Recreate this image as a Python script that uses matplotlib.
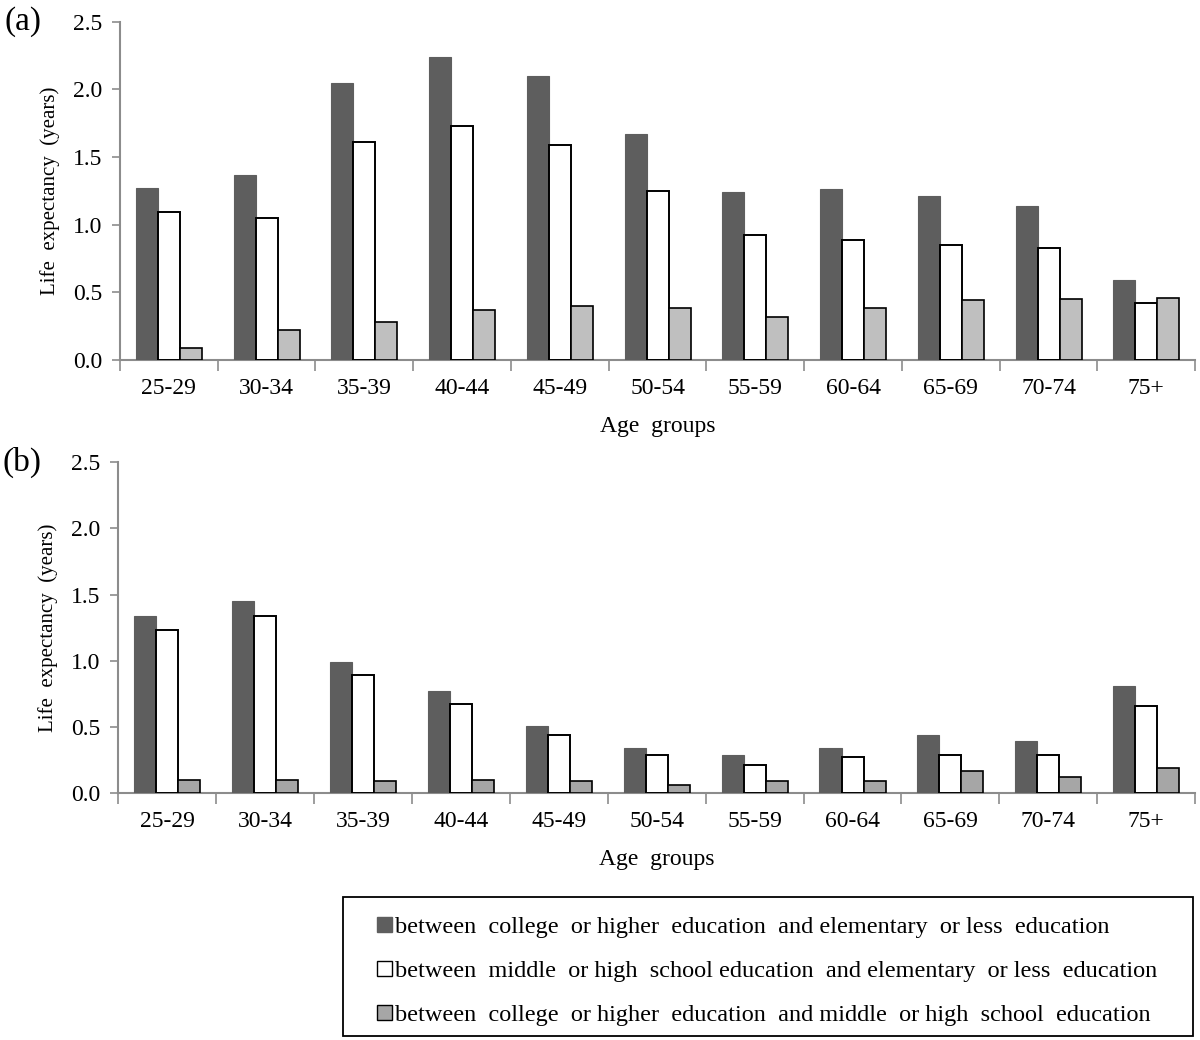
import matplotlib
matplotlib.use("Agg")
import matplotlib.pyplot as plt
import numpy as np
from matplotlib.patches import Patch, Rectangle

plt.rcParams['font.family'] = ['Liberation Serif', 'DejaVu Serif']

age_groups = ["25-29", "30-34", "35-39", "40-44", "45-49", "50-54",
              "55-59", "60-64", "65-69", "70-74", "75+"]

# Panel (a)
a_college_vs_elem = [1.27, 1.37, 2.05, 2.24, 2.10, 1.67, 1.24, 1.26, 1.21, 1.14, 0.59]
a_middle_vs_elem = [1.09, 1.05, 1.61, 1.73, 1.59, 1.25, 0.92, 0.89, 0.85, 0.83, 0.42]
a_college_vs_middle = [0.09, 0.22, 0.28, 0.37, 0.40, 0.38, 0.32, 0.38, 0.44, 0.45, 0.46]

# Panel (b)
b_college_vs_elem = [1.34, 1.45, 0.99, 0.77, 0.51, 0.34, 0.29, 0.34, 0.44, 0.39, 0.81]
b_middle_vs_elem = [1.23, 1.34, 0.89, 0.67, 0.44, 0.29, 0.21, 0.27, 0.29, 0.29, 0.66]
b_college_vs_middle = [0.10, 0.10, 0.09, 0.10, 0.09, 0.06, 0.09, 0.09, 0.17, 0.12, 0.19]

legend_labels = [
    "between  college  or higher  education  and elementary  or less  education",
    "between  middle  or high  school education  and elementary  or less  education",
    "between  college  or higher  education  and middle  or high  school  education",
]

DARK = "#5e5e5e"
LIGHT_A = "#bfbfbf"
LIGHT_B = "#a6a6a6"
AXIS_C = "#8c8c8c"

fig = plt.figure(figsize=(12, 10.4), dpi=100)


def draw_panel(ax, s1, s2, s3, gray, letter, letter_y):
    x = np.arange(len(age_groups))
    w = 0.225
    ax.bar(x - w, s1, width=w, color=DARK, edgecolor=DARK, linewidth=0.8, zorder=3)
    ax.bar(x, s2, width=w, color="white", edgecolor="black", linewidth=1.4, zorder=3)
    ax.bar(x + w, s3, width=w, color=gray, edgecolor="black", linewidth=1.2, zorder=3)
    ax.set_xlim(-0.5, len(age_groups) - 0.5)
    ax.set_ylim(0, 2.5)
    yt = np.arange(0, 2.51, 0.5)
    ax.set_yticks(yt)
    ax.set_yticklabels([f"{v:.1f}" for v in yt], fontsize=17)
    ax.set_xticks(x)
    ax.set_xticklabels(age_groups, fontsize=17)
    ax.set_xticks(np.arange(-0.5, len(age_groups), 1.0), minor=True)
    ax.tick_params(axis='x', which='major', length=0, pad=13)
    ax.tick_params(axis='x', which='minor', length=8, color=AXIS_C, width=1.2, direction='out')
    ax.tick_params(axis='y', length=6, color=AXIS_C, width=1.2, direction='out', pad=7)
    for s in ['top', 'right']:
        ax.spines[s].set_visible(False)
    for s in ['left', 'bottom']:
        ax.spines[s].set_color(AXIS_C)
        ax.spines[s].set_linewidth(1.5)
    ax.set_ylabel("Life  expectancy  (years)", fontsize=15, labelpad=9)
    ax.set_xlabel("Age  groups", fontsize=17, labelpad=12)
    ax.text(-0.107, letter_y, letter, transform=ax.transAxes, fontsize=24,
            ha='left', va='center')


ax1 = fig.add_axes([0.1, 0.654, 0.896, 0.325])
draw_panel(ax1, a_college_vs_elem, a_middle_vs_elem, a_college_vs_middle, LIGHT_A, "(a)", 1.0)

ax2 = fig.add_axes([0.0985, 0.2375, 0.8975, 0.318])
draw_panel(ax2, b_college_vs_elem, b_middle_vs_elem, b_college_vs_middle, LIGHT_B, "(b)", 1.0)

# Legend frame
W, H = 1200.0, 1040.0
frame = Rectangle((343 / W, 1 - 1036 / H), (1193 - 343) / W, (1036 - 897) / H,
                  transform=fig.transFigure, fill=False, edgecolor="black",
                  linewidth=1.3)
fig.add_artist(frame)

handles = [
    Patch(facecolor=DARK, edgecolor=DARK),
    Patch(facecolor="white", edgecolor="black", linewidth=1.0),
    Patch(facecolor=LIGHT_B, edgecolor="black", linewidth=1.0),
]
leg = fig.legend(handles, legend_labels, loc='upper left',
                 bbox_to_anchor=(377 / W, 1 - 917 / H), fontsize=17.5,
                 handlelength=0.6, handleheight=0.6, handletextpad=0.15,
                 labelspacing=0.93, borderpad=0.0, frameon=False,
                 borderaxespad=0)

fig.savefig("out.png", dpi=100)
